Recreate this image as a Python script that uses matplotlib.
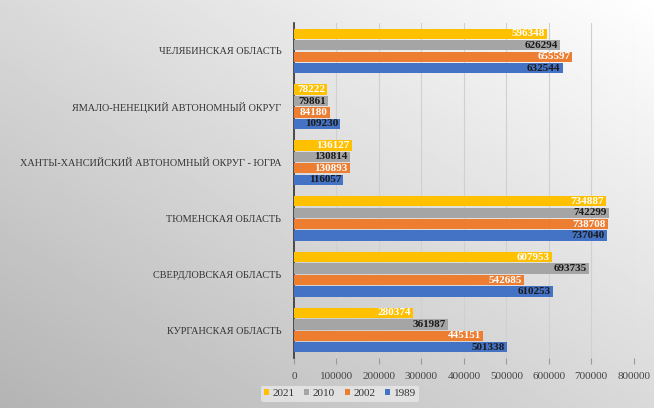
import matplotlib.pyplot as plt
import numpy as np

plt.rcParams['font.family'] = ['Liberation Serif', 'DejaVu Serif']

# regions bottom -> top
regions = ['КУРГАНСКАЯ ОБЛАСТЬ', 'СВЕРДЛОВСКАЯ ОБЛАСТЬ', 'ТЮМЕНСКАЯ ОБЛАСТЬ',
           'ХАНТЫ-ХАНСИЙСКИЙ АВТОНОМНЫЙ ОКРУГ - ЮГРА',
           'ЯМАЛО-НЕНЕЦКИЙ АВТОНОМНЫЙ ОКРУГ', 'ЧЕЛЯБИНСКАЯ ОБЛАСТЬ']
years = ['2021', '2010', '2002', '1989']
v2021 = [280374, 607953, 734887, 136127, 78222, 596348]
v2010 = [361987, 693735, 742299, 130814, 79861, 626294]
v2002 = [445151, 542685, 738708, 130893, 84180, 655597]
v1989 = [501338, 610253, 737040, 116057, 109230, 632544]
values = [v2021, v2010, v2002, v1989]
colors = ['#FFC000', '#A5A5A5', '#ED7D31', '#4472C4']
label_colors = ['white', '#1a1a1a', 'white', '#1a1a1a']
xticks = [0, 100000, 200000, 300000, 400000, 500000, 600000, 700000, 800000]

fig = plt.figure(figsize=(6.54, 4.08), dpi=100)

# gradient background: light at top right, gray at bottom left
bg = fig.add_axes([0, 0, 1, 1], zorder=-10)
gx, gy = np.meshgrid(np.linspace(0, 1, 200), np.linspace(0, 1, 200))
g = 0.5 * gx + 0.5 * (1 - gy)
bg.imshow(g, cmap='gray', vmin=-2.4, vmax=1.0, aspect='auto', extent=[0, 1, 0, 1])
bg.axis('off')

ax = fig.add_axes([0.4495, 0.1225, 0.5195, 0.821])
ax.patch.set_alpha(0)

y = np.arange(len(regions))
h = 0.205
for i, (yr, vals) in enumerate(zip(years, values)):
    pos = y + (1.5 - i) * h
    bars = ax.barh(pos, vals, height=h * 0.9, color=colors[i], label=yr, zorder=3)
    for b, v in zip(bars, vals):
        ax.text(v - 5000, b.get_y() + b.get_height() / 2, str(v), ha='right', va='center',
                fontsize=8, fontweight='bold', color=label_colors[i], zorder=4)

ax.set_xlim(0, 800000)
ax.set_ylim(-0.5, len(regions) - 0.5)
ax.set_yticks(y)
ax.set_yticklabels(regions, fontsize=7.4, color='#333333')
ax.set_xticks(xticks)
ax.set_xticklabels([str(t) for t in xticks], fontsize=8, color='#444444')
ax.tick_params(axis='y', length=0, pad=9)
ax.tick_params(axis='x', length=4, color='#999999', pad=6)
ax.grid(axis='x', color='#d0d0d0', linewidth=0.8, zorder=0)
for s in ['top', 'right', 'bottom']:
    ax.spines[s].set_visible(False)
ax.spines['left'].set_color('#333333')
ax.spines['left'].set_linewidth(1.2)

handles, labels = ax.get_legend_handles_labels()
leg = fig.legend(handles, labels, loc='center left', bbox_to_anchor=(0.39, 0.035), ncol=4,
                 fontsize=8, frameon=True, handlelength=0.45, handleheight=0.45,
                 handletextpad=0.3, columnspacing=0.9, borderpad=0.3)
leg.get_frame().set_facecolor('#e8e8e8')
leg.get_frame().set_edgecolor('none')
leg.get_frame().set_alpha(0.8)
for t in leg.get_texts():
    t.set_color('#333333')

fig.savefig('out.png', dpi=100)
